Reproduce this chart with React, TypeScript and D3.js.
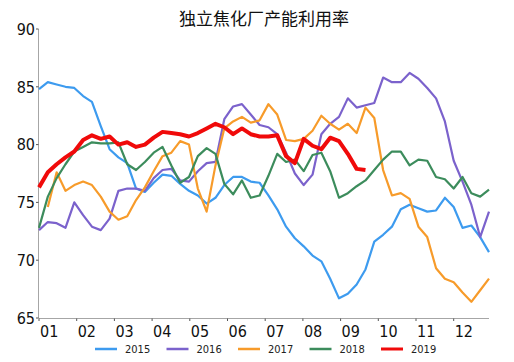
import React from "react";
import * as d3 from "d3";

const title = "独立焦化厂产能利用率";
const years = ["2015", "2016", "2017", "2018", "2019"];
const colors = ["#3D9BEF", "#7B62CC", "#F79B2A", "#3C8C5C", "#F00A0A"];
const monthLabels = ["01", "02", "03", "04", "05", "06", "07", "08", "09", "10", "11", "12"];
const yTicks = [65, 70, 75, 80, 85, 90];

// weekly values, week 1..52
const s2015 = [
  84.8, 85.4, 85.2, 85.0, 84.9, 84.2, 83.7, 81.6, 79.6, 78.9, 78.4, 76.2, 75.9,
  76.7, 77.4, 77.3, 76.6, 76.0, 75.6, 74.9, 75.4, 76.5, 77.2, 77.2, 76.8, 76.7,
  75.6, 74.4, 72.9, 71.9, 71.2, 70.4, 69.9, 68.4, 66.7, 67.1, 67.9, 69.2, 71.6,
  72.2, 72.9, 74.4, 74.8, 74.5, 74.2, 74.3, 75.4, 74.6, 72.8, 73.0, 72.0, 70.7,
];
const s2016 = [
  72.6, 73.3, 73.2, 72.8, 75.0, 73.9, 72.9, 72.6, 73.6, 76.0, 76.2, 76.2, 76.0,
  77.1, 77.8, 77.9, 76.9, 76.8, 77.7, 78.4, 78.5, 82.2, 83.3, 83.5, 82.6, 81.7,
  81.5, 80.9, 79.3, 77.5, 76.5, 77.4, 80.9, 81.8, 82.4, 84.0, 83.2, 83.4, 83.6,
  85.8, 85.4, 85.4, 86.2, 85.7, 84.9, 84.0, 82.0, 78.6, 76.8, 74.8, 72.0, 74.2,
];
const s2017 = [
  null, 74.6, 77.6, 76.0, 76.5, 76.8, 76.5, 75.5, 74.2, 73.5, 73.8, 75.2, 76.3,
  77.7, 79.0, 79.3, 80.3, 80.0, 76.2, 74.2, 78.2, 81.4, 82.0, 82.4, 81.9, 82.1,
  83.5, 82.6, 80.4, 80.3, 80.5, 81.2, 82.5, 81.8, 81.3, 81.8, 81.0, 83.2, 82.3,
  77.8, 75.6, 75.8, 75.3, 72.9, 72.0, 69.3, 68.4, 68.1, 67.2, 66.4, 67.4, 68.4,
];
const s2018 = [
  72.8, 75.5, 77.1, 78.3, 79.4, 79.8, 80.2, 80.1, 80.1, 80.2, 78.3, 77.8, 78.5,
  79.3, 79.8, 78.2, 76.7, 77.2, 79.0, 79.7, 79.2, 76.6, 75.7, 76.9, 75.4, 75.6,
  77.3, 79.2, 78.5, 78.7, 77.7, 79.1, 79.3, 77.7, 75.4, 75.8, 76.4, 76.9, 77.8,
  78.7, 79.4, 79.4, 78.2, 78.7, 78.6, 77.2, 77.0, 76.2, 77.2, 75.8, 75.5, 76.1,
];
const s2019 = [
  76.3, 77.6, 78.3, 78.9, 79.4, 80.4, 80.8, 80.5, 80.7, 80.0, 80.2, 79.8, 80.0,
  80.6, 81.1, 81.0, 80.9, 80.7, 81.0, 81.4, 81.8, 81.5, 80.9, 81.4, 80.9, 80.7,
  80.7, 80.8, 79.0, 78.4, 80.5, 79.9, 79.6, 80.6, 80.3, 79.2, 77.9, 77.8,
];

const seriesValues = [s2015, s2016, s2017, s2018, s2019];

const W = 514;
const H = 362;
const left = 39;
const right = 489;
const top = 29;
const bottom = 318;
const font = "'Liberation Sans Narrow', 'Arial Narrow', 'DejaVu Sans Condensed', sans-serif";

const App = () => {
  const xWeek = d3.scaleLinear().domain([0, 51]).range([left, right]);
  const xMonth = d3.scaleLinear().domain([0, 12]).range([left, left + 37.7 * 12]);
  const y = d3.scaleLinear().domain([65, 90]).range([bottom, top]);

  const line = d3
    .line<number | null>()
    .defined((d) => d != null)
    .x((d, i) => xWeek(i))
    .y((d) => y(d as number));

  const legendX = d3.scaleLinear().domain([0, 4]).range([95, 381]);

  return (
    <svg
      width={W}
      height={H}
      style={{ position: "absolute", left: 0, top: 0, background: "#fff" }}
    >
      <rect width={W} height={H} fill="#fff" />
      <text
        x={264}
        y={25}
        textAnchor="middle"
        fontSize={17}
        fontFamily="'Noto Sans CJK SC', sans-serif"
        fill="#111"
      >
        {title}
      </text>

      {/* y axis */}
      <line x1={left - 0.5} x2={left - 0.5} y1={top} y2={bottom} stroke="#a6a6a6" />
      {yTicks.map((t) => (
        <g key={t}>
          <line x1={left - 3} x2={left - 0.5} y1={y(t)} y2={y(t)} stroke="#555" />
          <text
            x={left - 4}
            y={y(t)}
            dy="0.36em"
            textAnchor="end"
            fontSize={16}
            fontFamily={font}
            fill="#111"
          >
            {t}
          </text>
        </g>
      ))}

      {/* x axis */}
      <line x1={left - 0.5} x2={right} y1={bottom + 0.5} y2={bottom + 0.5} stroke="#a6a6a6" />
      {monthLabels.map((m, i) => (
        <g key={m}>
          <line
            x1={xMonth(i)}
            x2={xMonth(i)}
            y1={bottom + 0.5}
            y2={bottom + 3}
            stroke="#555"
          />
          <text
            x={xMonth(i) + 1}
            y={337}
            fontSize={16}
            fontFamily={font}
            fill="#111"
          >
            {m}
          </text>
        </g>
      ))}

      {/* series */}
      {seriesValues.map((vals, k) => (
        <path
          key={years[k]}
          d={line(vals) || ""}
          fill="none"
          stroke={colors[k]}
          strokeWidth={k === 4 ? 4 : 2.2}
          strokeLinejoin="round"
        />
      ))}

      {/* legend */}
      {years.map((yr, k) => (
        <g key={yr} transform={`translate(${legendX(k)},349)`}>
          <line x1={0} x2={22} y1={0} y2={0} stroke={colors[k]} strokeWidth={k === 4 ? 3 : 2.5} />
          <text x={30} y={0} dy="0.36em" fontSize={11} fontFamily={font} fill="#222">
            {yr}
          </text>
        </g>
      ))}
    </svg>
  );
};

export default App;
